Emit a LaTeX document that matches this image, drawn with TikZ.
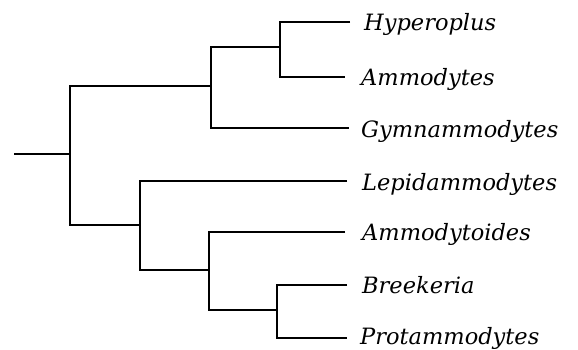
\documentclass[tikz,border=0pt]{standalone}
\usepackage{fontspec}
\setmainfont{DejaVu Serif}
\usetikzlibrary{positioning}

\begin{document}
\begin{tikzpicture}[x=1pt,y=-1pt]
    \tikzstyle{branch} = [draw=black, line width=1.2pt]
    \tikzstyle{taxon} = [anchor=base west, inner sep=0pt, font=\fontsize{22.5}{26}\selectfont\itshape]
    \useasboundingbox (0,0) rectangle (578,349);
    % inner nodes
    \coordinate (root) at (14,154);
    \coordinate (n0) at (70,154);
    \coordinate (n1) at (211,86);
    \coordinate (n2) at (280,47);
    \coordinate (n3) at (140,225);
    \coordinate (n4) at (209,270);
    \coordinate (n5) at (277,310);
    % leaf ends
    \coordinate (e1) at (350,22);
    \coordinate (e2) at (345,77);
    \coordinate (e3) at (349,128);
    \coordinate (e4) at (347,181);
    \coordinate (e5) at (345,232);
    \coordinate (e6) at (347,285);
    \coordinate (e7) at (347,338);
    % taxa
    \node[taxon] (hyp) at ([xshift=14pt,yshift=-8pt]e1) {Hyperoplus};
    \node[taxon] (amm) at ([xshift=16pt,yshift=-8pt]e2) {Ammodytes};
    \node[taxon] (gym) at ([xshift=12pt,yshift=-9pt]e3) {Gymnammodytes};
    \node[taxon] (lep) at ([xshift=15pt,yshift=-9pt]e4) {Lepidammodytes};
    \node[taxon] (amt) at ([xshift=17pt,yshift=-8pt]e5) {Ammodytoides};
    \node[taxon] (bre) at ([xshift=15pt,yshift=-8pt]e6) {Breekeria};
    \node[taxon] (pro) at ([xshift=13pt,yshift=-6pt]e7) {Protammodytes};
    % branches
    \draw[branch] (root) -- (n0);
    \draw[branch] (n1) -| (n0) |- (n3);
    \draw[branch] (n2) -| (n1) |- (e3);
    \draw[branch] (e1) -| (n2) |- (e2);
    \draw[branch] (e4) -| (n3) |- (n4);
    \draw[branch] (e5) -| (n4) |- (n5);
    \draw[branch] (e6) -| (n5) |- (e7);
\end{tikzpicture}
\end{document}
